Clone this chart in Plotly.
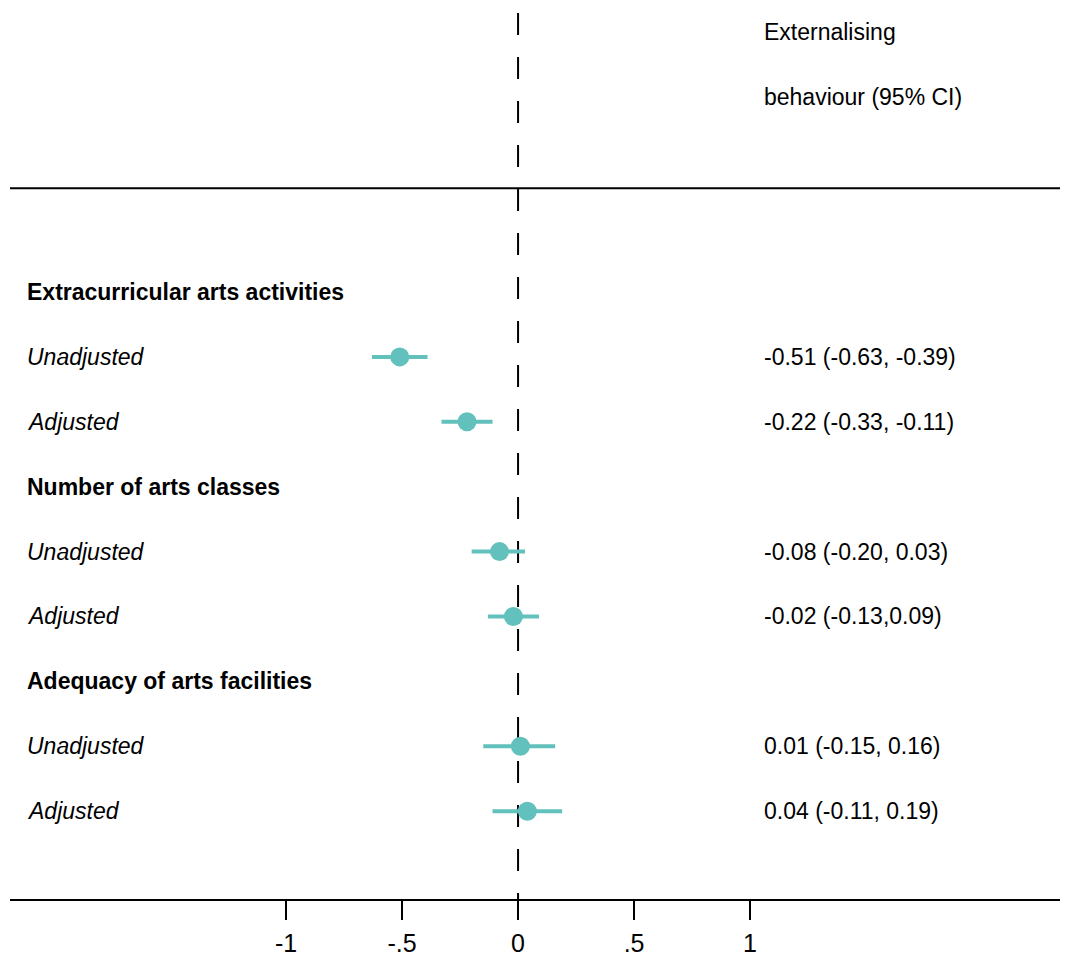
import plotly.graph_objects as go

# ---- data ----
row_labels = ["Extracurricular arts activities", "Unadjusted", "Adjusted",
              "Number of arts classes", "Unadjusted", "Adjusted",
              "Adequacy of arts facilities", "Unadjusted", "Adjusted"]
row_is_header = [True, False, False, True, False, False, True, False, False]
estimates = [None, -0.51, -0.22, None, -0.08, -0.02, None, 0.01, 0.04]
ci_low = [None, -0.63, -0.33, None, -0.20, -0.13, None, -0.15, -0.11]
ci_high = [None, -0.39, -0.11, None, 0.03, 0.09, None, 0.16, 0.19]
ci_text = ["", "-0.51 (-0.63, -0.39)", "-0.22 (-0.33, -0.11)",
           "", "-0.08 (-0.20, 0.03)", "-0.02 (-0.13,0.09)",
           "", "0.01 (-0.15, 0.16)", "0.04 (-0.11, 0.19)"]
header_lines = ["Externalising", "behaviour (95% CI)"]
tick_vals = [-1, -0.5, 0, 0.5, 1]
tick_text = ["-1", "-.5", "0", ".5", "1"]

FONT = "Liberation Sans, Arial, Helvetica, sans-serif"
TEAL = "#62C1BD"
TXT_SIZE = 23

ys = list(range(len(row_labels)))
px_idx = [i for i, e in enumerate(estimates) if e is not None]

fig = go.Figure()
fig.add_trace(go.Scatter(
    x=[estimates[i] for i in px_idx],
    y=[ys[i] for i in px_idx],
    mode="markers",
    marker=dict(size=19, color=TEAL),
    error_x=dict(type="data", symmetric=False,
                 array=[ci_high[i] - estimates[i] for i in px_idx],
                 arrayminus=[estimates[i] - ci_low[i] for i in px_idx],
                 color=TEAL, thickness=4, width=0),
    showlegend=False, hoverinfo="skip",
))

x_left = -2.19
x_right = 2.405
x_label = -2.125
x_ci = 1.052

annotations = []
for i, lab in enumerate(row_labels):
    if row_is_header[i]:
        txt = "<b>" + lab + "</b>"
    else:
        txt = "<i>" + lab + "</i>"
    annotations.append(dict(x=x_label, y=ys[i], xref="x", yref="y", text=txt,
                            showarrow=False, xanchor="left", yanchor="middle",
                            font=dict(family=FONT, size=TXT_SIZE, color="black")))
    if ci_text[i]:
        annotations.append(dict(x=x_ci, y=ys[i], xref="x", yref="y", text=ci_text[i],
                                showarrow=False, xanchor="left", yanchor="middle",
                                font=dict(family=FONT, size=TXT_SIZE, color="black")))
for k, h in enumerate(header_lines):
    annotations.append(dict(x=x_ci, y=-4 + k, xref="x", yref="y", text=h,
                            showarrow=False, xanchor="left", yanchor="middle",
                            font=dict(family=FONT, size=TXT_SIZE, color="black")))

shapes = [
    dict(type="line", xref="x", yref="y", x0=0, x1=0, y0=-4.3, y1=9.353,
         line=dict(color="black", width=2, dash="22px,22px"), layer="below"),
    dict(type="line", xref="paper", yref="y", x0=0, x1=1, y0=-1.6, y1=-1.6,
         line=dict(color="black", width=2)),
]

fig.update_layout(
    width=1068, height=960,
    margin=dict(l=2, r=0, t=0, b=69),
    paper_bgcolor="white", plot_bgcolor="white",
    annotations=annotations, shapes=shapes,
    xaxis=dict(range=[x_left, x_right], showgrid=False, zeroline=False,
               tickvals=tick_vals, ticktext=tick_text, ticks="outside",
               ticklen=19, tickwidth=1.5, tickcolor="black",
               ticklabelstandoff=2,
               showline=True, linecolor="black", linewidth=2,
               tickfont=dict(family=FONT, size=25, color="black")),
    yaxis=dict(range=[9.353, -4.376], showgrid=False, zeroline=False,
               showticklabels=False, showline=False, ticks=""),
)

fig.write_html("out.html")
